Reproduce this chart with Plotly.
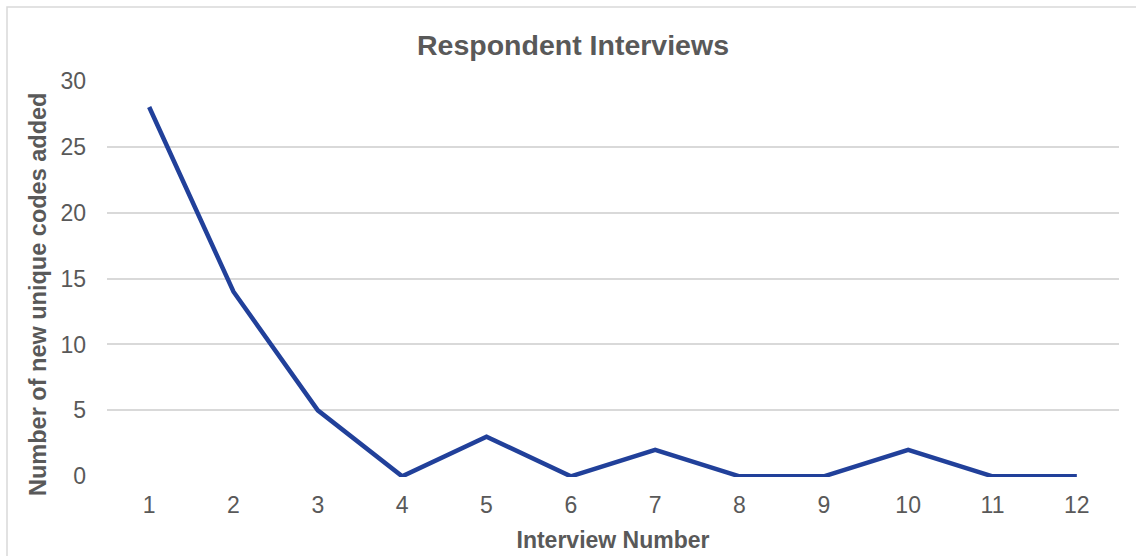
import plotly.graph_objects as go

interviews = [1, 2, 3, 4, 5, 6, 7, 8, 9, 10, 11, 12]
new_codes = [28, 14, 5, 0, 3, 0, 2, 0, 0, 2, 0, 0]

TXT = "#595959"
FONT = "Liberation Sans, Arial, sans-serif"

L, R, T, B = 107, 1119, 80, 477
PW, PH = R - L, B - T

fig = go.Figure()
fig.add_trace(go.Scatter(
    x=interviews, y=new_codes, mode="lines",
    line=dict(color="#21409A", width=4.5),
    showlegend=False,
))

fig.update_layout(
    width=1136, height=556,
    margin=dict(l=L, r=1136 - R, t=T, b=556 - B),
    paper_bgcolor="white", plot_bgcolor="white",
    title=dict(text="<b>Respondent Interviews</b>", x=573 / 1136, xanchor="center",
               y=1 - 45 / 556, yanchor="middle",
               font=dict(family=FONT, size=28.5, color=TXT)),
    font=dict(family=FONT, color=TXT),
    xaxis=dict(
        range=[0.5, 12.5], tickmode="array", tickvals=interviews,
        ticktext=[str(v) for v in interviews], automargin=False,
        showgrid=False, zeroline=False, showline=False,
        tickfont=dict(size=23, color=TXT), ticks="", ticklabelstandoff=12,
        title=dict(text="<b>Interview Number</b>", font=dict(size=23, color=TXT), standoff=14),
    ),
    yaxis=dict(
        range=[-0.05, 30.05], tickvals=[0, 5, 10, 15, 20, 25, 30], automargin=False,
        showgrid=True, gridcolor="#D9D9D9", gridwidth=1.5,
        zeroline=False, showline=False, ticks="",
        tickfont=dict(size=23, color=TXT), ticklabelstandoff=20,
    ),
    annotations=[dict(text="<b>Number of new unique codes added</b>", textangle=-90,
                      xref="paper", yref="paper",
                      x=(38 - L) / PW, y=(B - 295) / PH,
                      xanchor="center", yanchor="middle", showarrow=False,
                      font=dict(family=FONT, size=23.5, color=TXT))],
    shapes=[dict(type="rect", xref="paper", yref="paper",
                 x0=(7 - L) / PW, x1=(1145 - L) / PW,
                 y0=(B - 565) / PH, y1=(B - 7) / PH,
                 line=dict(color="#D9D9D9", width=1.5), layer="below")],
)

fig.write_html("out.html")
